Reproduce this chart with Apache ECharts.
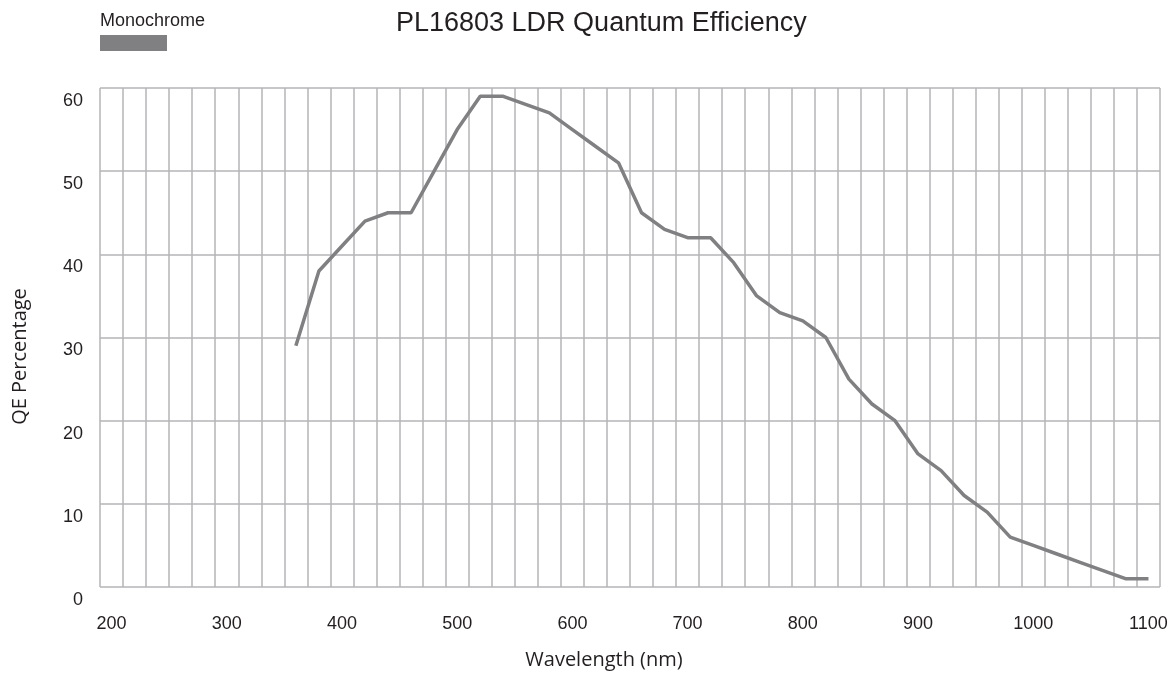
<!DOCTYPE html>
<html>
<head>
<meta charset="utf-8">
<script src="https://cdn.jsdelivr.net/npm/echarts@6/dist/echarts.min.js"></script>
<style>
    html, body { margin: 0; padding: 0; background: #fff; }
    #main { width: 1176px; height: 675px; }
</style>
</head>
<body>
<div id="main"></div>
<script>
// wavelength (nm) and QE (%)
var wavelengths = [360, 380, 400, 420, 440, 460, 480, 500, 520, 540, 560, 580, 600, 620, 640,
    660, 680, 700, 720, 740, 760, 780, 800, 820, 840, 860, 880, 900, 920, 940, 960, 980,
    1000, 1020, 1040, 1060, 1080, 1100];
var qeMono = [29, 38, 41, 44, 45, 45, 50, 55, 59, 59, 58, 57, 55, 53, 51,
    45, 43, 42, 42, 39, 35, 33, 32, 30, 25, 22, 20, 16, 14, 11, 9, 6,
    5, 4, 3, 2, 1, 1];
var xTickLabels = [200, 300, 400, 500, 600, 700, 800, 900, 1000, 1100];
var yTicks = [0, 10, 20, 30, 40, 50, 60];

var lineColor = '#808083';
var gridColor = '#b4b4b7';
var textColor = '#231f20';
var sans = 'Liberation Sans';

var chart = echarts.init(document.getElementById('main'));

var points = wavelengths.map(function (w, i) { return [w, qeMono[i]]; });

chart.setOption({
    animation: false,
    title: [
        {
            text: 'PL16803 LDR Quantum Efficiency',
            left: 396, top: 10, padding: 0,
            textStyle: { fontFamily: sans, fontSize: 27, fontWeight: 'normal', color: textColor }
        },
        {
            text: 'Monochrome',
            left: 100, top: 12, padding: 0,
            textStyle: { fontFamily: sans, fontSize: 18, fontWeight: 'normal', color: textColor }
        }
    ],
    legend: {
        left: 100, top: 35, padding: 0,
        icon: 'rect',
        itemWidth: 67, itemHeight: 16,
        formatter: function () { return ''; },
        data: ['Monochrome']
    },
    grid: { left: 100, right: 16, top: 88, bottom: 87, containLabel: false },
    xAxis: [
        {
            type: 'value', min: 190, max: 1110, interval: 20,
            axisLine: { show: false },
            axisTick: { show: false },
            axisLabel: { show: false },
            splitLine: { show: true, lineStyle: { color: gridColor, width: 1.5 } }
        },
        {
            type: 'value', min: 190, max: 1110, position: 'bottom',
            name: 'Wavelength (nm)', nameLocation: 'middle', nameGap: 63,
            nameTextStyle: { fontFamily: 'Open Sans', fontSize: 20, color: textColor, padding: [0, 52, 0, 0] },
            axisLine: { show: false },
            axisTick: { show: false },
            splitLine: { show: false },
            axisLabel: {
                customValues: xTickLabels,
                formatter: function (v) { return String(v); },
                margin: 28,
                fontFamily: sans, fontSize: 18, color: textColor
            }
        }
    ],
    yAxis: {
        type: 'value', min: 0, max: 60, interval: 10,
        name: 'QE Percentage', nameLocation: 'middle', nameGap: 70, nameRotate: 90,
        nameTextStyle: { fontFamily: 'Open Sans', fontSize: 20, color: textColor, padding: [0, 38, 0, 0] },
        axisLine: { show: false },
        axisTick: { show: false },
        splitLine: { show: true, lineStyle: { color: gridColor, width: 1.5 } },
        axisLabel: {
            customValues: yTicks,
            margin: 17,
            verticalAlign: 'top',
            lineHeight: 26,
            fontFamily: sans, fontSize: 18, color: textColor
        }
    },
    series: [{
        name: 'Monochrome',
        type: 'line',
        xAxisIndex: 0,
        data: points,
        showSymbol: false,
        itemStyle: { color: lineColor },
        lineStyle: { color: lineColor, width: 3.5 }
    }]
});
</script>
</body>
</html>
